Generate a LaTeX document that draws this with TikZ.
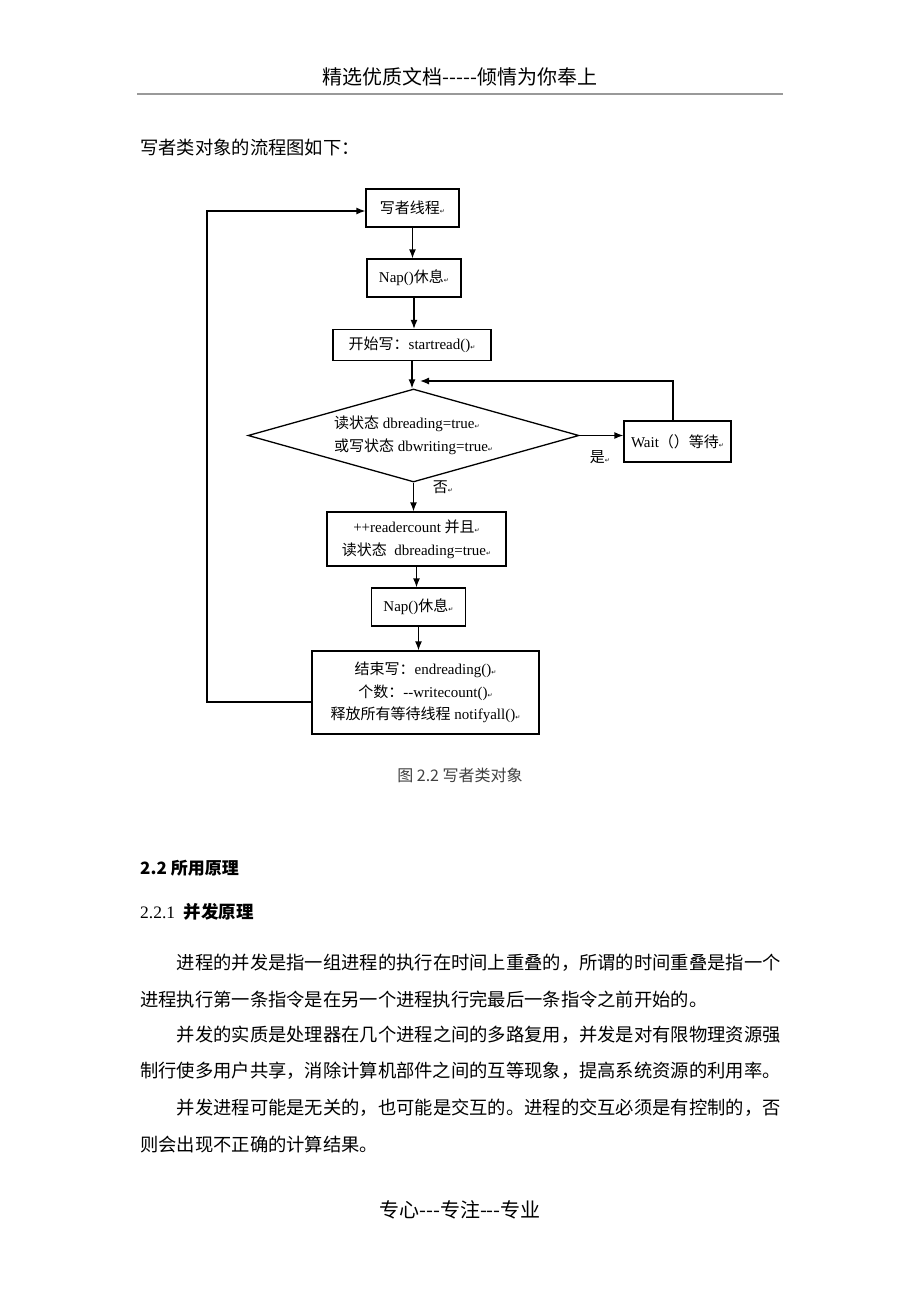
\documentclass[tikz,border=0pt]{standalone}
\usepackage{fontspec}
\setmainfont{Liberation Serif}
\newfontfamily\zhfont{Noto Sans CJK SC}
\newfontfamily\pmfont{DejaVu Sans}
\usepackage{tikz}
\usetikzlibrary{arrows.meta}
\usetikzlibrary{shapes.geometric}

\newcommand{\zh}[1]{{\zhfont #1}}
\newcommand{\retmark}{{\pmfont\fontsize{6}{6}\selectfont ↵}}

\tikzset{
	fbox/.style={draw,line width=1.3pt,inner sep=2pt,align=center,font=\fontsize{15}{23}\selectfont},
	arr/.style={line width=1.3pt,-{Latex[length=9pt,width=7pt]}},
	body/.style={anchor=west,inner sep=0pt,font=\zhfont\fontsize{18.3}{20}\selectfont},
	lbl/.style={inner sep=0pt,font=\fontsize{15}{18}\selectfont}
}

\begin{document}
\begin{tikzpicture}[x=1pt,y=-1pt]
	\fill[white] (0,0) rectangle (920,1302);
	\useasboundingbox (0,0) rectangle (920,1302);
	% page head
	\node (head) at (460,77) {\zhfont\fontsize{20}{24}\selectfont 精选优质文档-----倾情为你奉上};
	\draw[black!40,line width=1.2pt] (137,94) -- (783,94);
	\node[body] (intro) at (140,148) {写者类对象的流程图如下：};
	% flow chart
	\node[fbox,minimum width=93pt,minimum height=38pt] (writer) at (412.5,208) {\zh{写者线程}\retmark};
	\node[fbox,minimum width=94pt,minimum height=38pt] (nap1) at (414,278) {Nap()\zh{休息}\retmark};
	\node[fbox,minimum width=158pt,minimum height=31pt] (startw) at (412,345) {\zh{开始写：}startread()\retmark};
	\node[draw,line width=1.3pt,diamond,shape aspect=3.5,minimum width=331pt,minimum height=93pt,inner sep=0pt,align=left,font=\fontsize{15}{23}\selectfont] (test) at (413.5,435.5) {\zh{读状态} dbreading=true\retmark\\\zh{或写状态} dbwriting=true\retmark};
	\node[fbox,minimum width=107pt,minimum height=41pt] (wait) at (677.5,441.5) {Wait\zh{（）等待}\retmark};
	\node[fbox,minimum width=179pt,minimum height=54pt] (incr) at (416.5,539) {++readercount \zh{并且}\retmark\\\zh{读状态}\ \ dbreading=true\retmark};
	\node[fbox,minimum width=94pt,minimum height=38pt] (nap2) at (418.5,607) {Nap()\zh{休息}\retmark};
	\node[fbox,minimum width=227pt,minimum height=83pt,font=\fontsize{15}{22.5}\selectfont] (endw) at (425.5,692.5) {\zh{结束写：}endreading()\retmark\\\zh{个数：}-{}-writecount()\retmark\\\zh{释放所有等待线程} notifyall()\retmark};
	\node[lbl] (yes) at (600,457) {\zh{是}\retmark};
	\node[lbl] (no) at (443,487) {\zh{否}\retmark};
	\coordinate (back) at (420,381);
	\coordinate (lp) at (207,702);
	\draw[arr] (writer) -- (writer |- nap1.north);
	\draw[arr] (nap1) -- (nap1 |- startw.north);
	\draw[arr] (startw) -- (startw |- test.north);
	\draw[arr] (test) -- (test |- incr.north);
	\draw[arr] (incr) -- (incr |- nap2.north);
	\draw[arr] (nap2) -- (nap2 |- endw.north);
	\draw[arr] (test.east) -- (test.east -| wait.west);
	\draw[arr] ([xshift=-4.5pt]wait.north) |- (back);
	\draw[arr] ([yshift=-9.5pt]endw.west) -- (lp) |- ([yshift=-3pt]writer.west);
	\node[font=\zhfont\fontsize{16}{18}\selectfont,text=black!75] (cap) at (460,775) {图 2.2 写者类对象};
	% text below
	\node[anchor=west,inner sep=0pt,font=\zhfont\bfseries\fontsize{17}{20}\selectfont] (sec) at (140,868) {2.2 所用原理};
	\node[anchor=west,inner sep=0pt,font=\fontsize{17.5}{20}\selectfont] (subsec) at (140,912) {2.2.1\ \ \zh{\bfseries 并发原理}};
	\node[body] (p1a) at (176.6,963) {进程的并发是指一组进程的执行在时间上重叠的，所谓的时间重叠是指一个};
	\node[body] (p1b) at (140,999) {进程执行第一条指令是在另一个进程执行完最后一条指令之前开始的。};
	\node[body] (p2a) at (176.6,1035) {并发的实质是处理器在几个进程之间的多路复用，并发是对有限物理资源强};
	\node[body] (p2b) at (140,1071) {制行使多用户共享，消除计算机部件之间的互等现象，提高系统资源的利用率。};
	\node[body] (p3a) at (176.6,1108) {并发进程可能是无关的，也可能是交互的。进程的交互必须是有控制的，否};
	\node[body] (p3b) at (140,1145) {则会出现不正确的计算结果。};
	\node[font=\zhfont\fontsize{20}{24}\selectfont] (foot) at (460,1210) {专心---专注---专业};
\end{tikzpicture}
\end{document}
